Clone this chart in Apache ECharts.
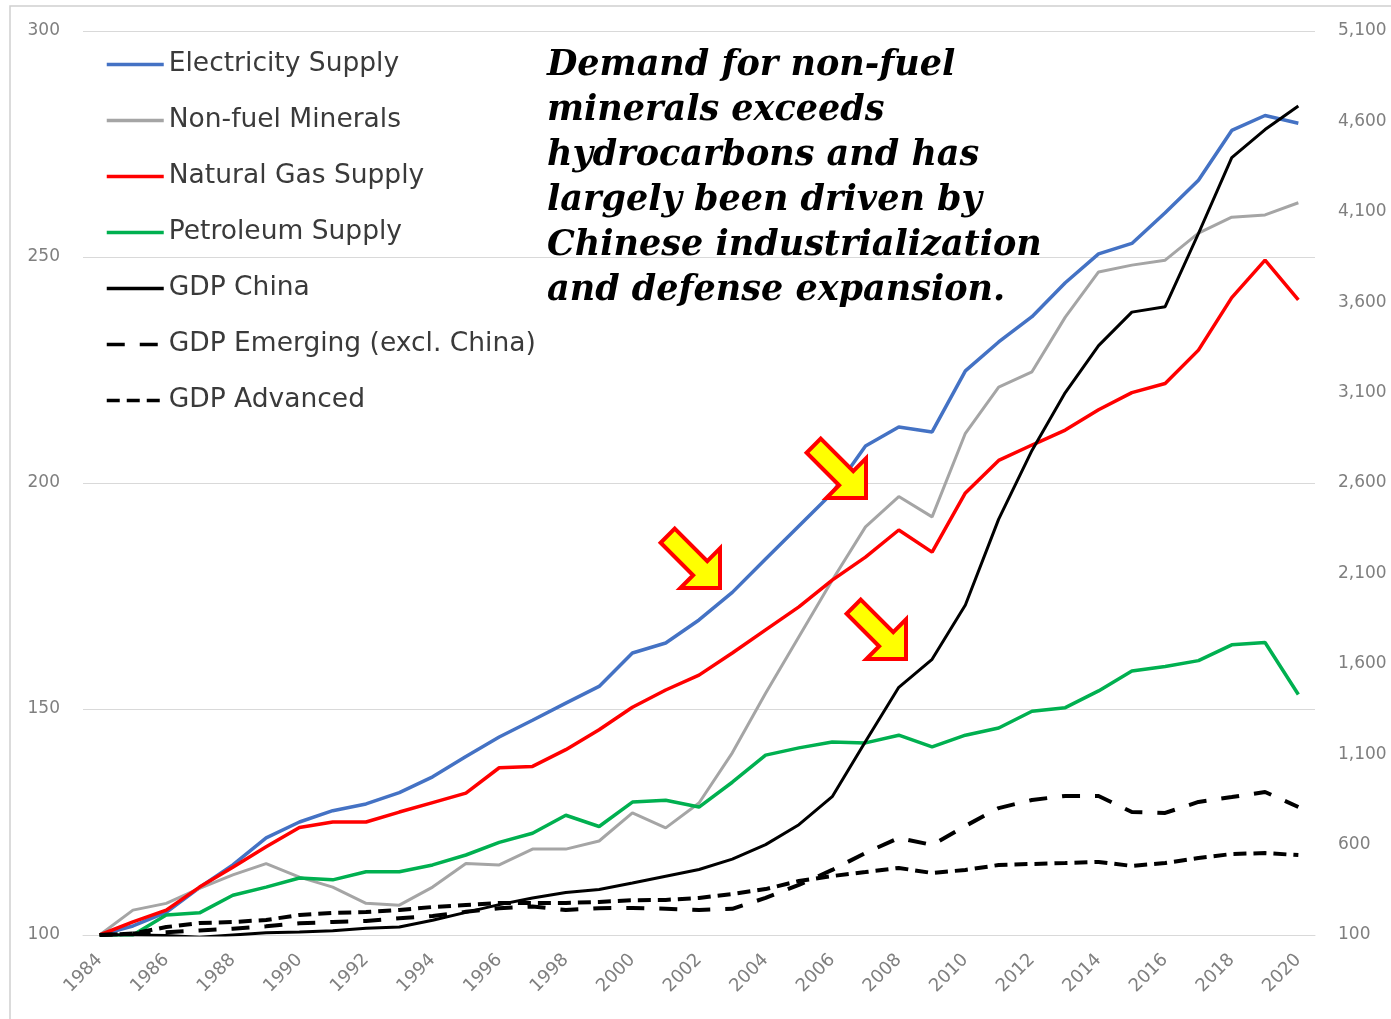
<!DOCTYPE html>
<html>
<head>
<meta charset="utf-8">
<script src="https://cdn.jsdelivr.net/npm/echarts@6/dist/echarts.min.js"></script>
<style>
    html, body { margin: 0; padding: 0; background: #fff; }
    #main { width: 1391px; height: 1019px; }
</style>
</head>
<body>
<div id="main"></div>
<script>
// years on the x axis
var years = [];
for (var y = 1984; y <= 2020; y++) years.push(String(y));

// left axis series (index, 1984 = 100)
var electricity = [100, 102, 105, 110.5, 115.5, 121.5, 125, 127.5, 129, 131.5, 135, 139.5, 143.8, 147.5, 151.3, 155, 162.4, 164.6, 169.7, 175.8, 183.2, 190.5, 197.8, 208.2, 212.4, 211.3, 224.8, 231.2, 236.8, 244.3, 250.7, 253, 259.8, 267, 278, 281.3, 279.6];
var nonFuel = [100, 105.5, 107, 110.3, 113.3, 115.8, 112.8, 110.6, 107, 106.6, 110.6, 115.8, 115.5, 119, 119, 120.8, 127, 123.7, 129.2, 140.3, 153.5, 166, 178.5, 190.3, 197, 192.5, 211, 221.2, 224.6, 236.7, 246.7, 248.2, 249.3, 255.3, 258.8, 259.3, 262];
var natGas = [100, 102.9, 105.5, 110.6, 115, 119.5, 123.8, 125, 125, 127.2, 129.3, 131.4, 137, 137.3, 141, 145.4, 150.4, 154.2, 157.5, 162.4, 167.5, 172.6, 178.5, 183.6, 189.6, 184.7, 197.8, 205, 208.4, 211.7, 216.2, 220, 222, 229.4, 241, 249.3, 240.5];
var petroleum = [100, 100, 104.4, 104.9, 108.8, 110.6, 112.6, 112.2, 114, 114, 115.5, 117.7, 120.5, 122.5, 126.5, 124, 129.4, 129.8, 128.3, 133.8, 139.8, 141.4, 142.7, 142.5, 144.2, 141.6, 144.2, 145.8, 149.5, 150.3, 154, 158.4, 159.4, 160.7, 164.2, 164.7, 153.2];

// right axis series
var gdpChina = [100, 100, 97, 88, 100, 112, 116, 124, 138, 144, 182, 225, 268, 305, 335, 352, 388, 425, 462, 520, 600, 710, 865, 1170, 1470, 1625, 1925, 2400, 2780, 3100, 3360, 3545, 3575, 3980, 4400, 4555, 4685];
var gdpEmerging = [100, 108, 115, 125, 135, 148, 165, 172, 178, 192, 205, 228, 248, 258, 238, 248, 250, 245, 238, 245, 305, 377, 460, 554, 637, 598, 703, 802, 847, 869, 869, 780, 775, 836, 863, 891, 808];
var gdpAdvanced = [100, 108, 144, 166, 172, 183, 211, 222, 227, 238, 255, 266, 277, 277, 277, 283, 292, 294, 305, 327, 354, 399, 426, 448, 471, 443, 460, 487, 493, 498, 504, 482, 498, 526, 548, 553, 542];

var noteText = 'Demand for non-fuel\nminerals exceeds\nhydrocarbons and has\nlargely been driven by\nChinese industrialization\nand defense expansion.';

var chart = echarts.init(document.getElementById('main'));

var labelFont = 'DejaVu Sans';
var labelColor = '#7f7f7f';

// yellow arrow with red outline, drawn pointing right then turned to point down-right
function arrow(tipX, tipY) {
    return {
        type: 'polygon',
        x: tipX,
        y: tipY,
        rotation: -Math.PI / 4,
        shape: {
            points: [[-74, -10], [-28, -10], [-28, -28], [0, 0], [-28, 28], [-28, 10], [-74, 10]]
        },
        style: { fill: '#ffff00', stroke: '#ff0000', lineWidth: 4, lineJoin: 'miter' },
        z: 100
    };
}

function lineSeries(name, data, color, width, dash, axis) {
    return {
        name: name,
        type: 'line',
        yAxisIndex: axis,
        data: data,
        symbol: 'none',
        smooth: false,
        lineStyle: { color: color, width: width, type: dash },
        itemStyle: { color: color },
        emphasis: { disabled: true }
    };
}

var option = {
    animation: false,
    backgroundColor: '#fff',
    grid: { left: 83, right: 76, top: 31, bottom: 84, containLabel: false },
    legend: {
        orient: 'vertical',
        left: 105,
        top: 51,
        padding: 0,
        itemWidth: 57,
        itemHeight: 14,
        itemGap: 29,
        itemStyle: { opacity: 0 },
        lineStyle: { width: 3.5 },
        textStyle: { fontFamily: labelFont, fontSize: 26.5, color: '#3a3a3a' },
        data: ['Electricity Supply', 'Non-fuel Minerals', 'Natural Gas Supply', 'Petroleum Supply', 'GDP China', 'GDP Emerging (excl. China)', 'GDP Advanced']
    },
    xAxis: {
        type: 'category',
        data: years,
        boundaryGap: true,
        axisTick: { show: false },
        axisLine: { lineStyle: { color: '#d9d9d9', width: 1 } },
        axisLabel: { rotate: 45, interval: 1, margin: 22, fontFamily: labelFont, fontSize: 18, color: labelColor }
    },
    yAxis: [{
        type: 'value',
        min: 100,
        max: 300,
        interval: 50,
        axisLine: { show: false },
        axisTick: { show: false },
        splitLine: { lineStyle: { color: '#d9d9d9', width: 1 } },
        axisLabel: { margin: 23, fontFamily: labelFont, fontSize: 17, color: labelColor }
    }, {
        type: 'value',
        min: 100,
        max: 5100,
        interval: 500,
        position: 'right',
        axisLine: { show: false },
        axisTick: { show: false },
        splitLine: { show: false },
        axisLabel: {
            margin: 23, fontFamily: labelFont, fontSize: 17, color: labelColor,
            formatter: function (v) { return v.toLocaleString('en-US'); }
        }
    }],
    series: [
        lineSeries('Electricity Supply', electricity, '#4472c4', 3.5, 'solid', 0),
        lineSeries('Non-fuel Minerals', nonFuel, '#a5a5a5', 3, 'solid', 0),
        lineSeries('Natural Gas Supply', natGas, '#ff0000', 3.5, 'solid', 0),
        lineSeries('Petroleum Supply', petroleum, '#00b050', 3.5, 'solid', 0),
        lineSeries('GDP China', gdpChina, '#000000', 3, 'solid', 1),
        lineSeries('GDP Emerging (excl. China)', gdpEmerging, '#000000', 4, [18, 15], 1),
        lineSeries('GDP Advanced', gdpAdvanced, '#000000', 4, [13, 7], 1)
    ],
    graphic: [
        {
            type: 'rect',
            shape: { x: 10, y: 6, width: 1420, height: 1060 },
            style: { fill: 'none', stroke: '#d0d0d0', lineWidth: 1.5 },
            silent: true,
            z: -10
        },
        {
            type: 'text',
            left: 547,
            top: 43,
            style: {
                text: noteText,
                font: 'italic bold 35px "DejaVu Serif"',
                lineHeight: 45,
                fill: '#000'
            },
            z: 100
        },
        arrow(720, 588),
        arrow(866, 498),
        arrow(906, 659)
    ]
};

chart.setOption(option);
</script>
</body>
</html>
